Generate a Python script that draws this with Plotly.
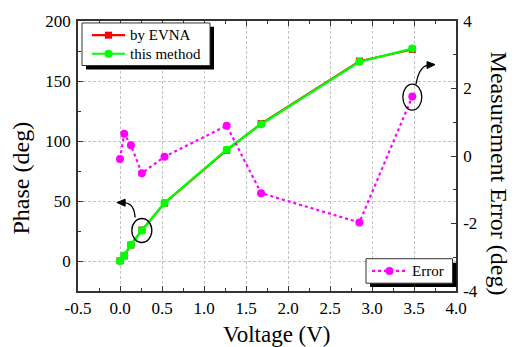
import plotly.graph_objects as go

# Bias voltage sweep
voltage = [0.0, 0.05, 0.13, 0.26, 0.53, 1.27, 1.68, 2.85, 3.48]
# Phase measured by the EVNA and by the proposed method (deg)
phase_evna = [0.2, 4.2, 13.3, 25.8, 48.2, 92.2, 114.5, 166.6, 176.3]
phase_method = [0.0, 4.6, 13.6, 25.4, 48.4, 92.8, 114.0, 166.0, 177.0]
# Measurement error of the proposed method (deg)
error = [-0.09, 0.66, 0.32, -0.51, -0.02, 0.90, -1.10, -1.97, 1.76]

x_ticks = [-0.5, 0.0, 0.5, 1.0, 1.5, 2.0, 2.5, 3.0, 3.5, 4.0]
phase_ticks = [0, 50, 100, 150, 200]
error_ticks = [-4, -2, 0, 2, 4]

FONT = "Liberation Serif"
RED, GREEN, MAGENTA = "#ff0000", "#00ff00", "#ff00ff"
W, H = 514, 347
ML, MR, MT, MB = 78, 58, 15, 56
PW, PH = W - ML - MR, H - MT - MB


def px(x, y):
    """Page pixel position -> paper coordinates."""
    return (x - ML) / PW, (H - MB - y) / PH


fig = go.Figure()

fig.add_trace(go.Scatter(
    x=voltage, y=phase_evna, name="by EVNA", mode="lines+markers",
    line=dict(color=RED, width=2),
    marker=dict(symbol="square", size=7, color=RED),
))
fig.add_trace(go.Scatter(
    x=voltage, y=phase_method, name="this method", mode="lines+markers",
    line=dict(color=GREEN, width=2.5),
    marker=dict(symbol="circle", size=8, color=GREEN),
))
fig.add_trace(go.Scatter(
    x=voltage, y=error, name="Error", mode="lines+markers", yaxis="y2",
    line=dict(color=MAGENTA, width=2.2, dash="dot"),
    marker=dict(symbol="circle", size=8, color=MAGENTA),
))

shapes = []
annotations = []


def rect(x0, y0, x1, y1, fill, border):
    a0, b0 = px(x0, y1)
    a1, b1 = px(x1, y0)
    shapes.append(dict(type="rect", xref="paper", yref="paper",
                       x0=a0, y0=b0, x1=a1, y1=b1, fillcolor=fill,
                       line=dict(color=border, width=1 if border else 0),
                       layer="above"))


def legend_box(box, entries):
    x0, y0, x1, y1 = box
    rect(x0 + 4, y0 + 4, x1 + 4, y1 + 4, "black", None)   # drop shadow
    rect(x0, y0, x1, y1, "white", "#333333")
    for (lx0, lx1, ly, color, dash, symbol, size, label) in entries:
        a0, b = px(lx0, ly)
        a1, _ = px(lx1, ly)
        shapes.append(dict(type="line", xref="paper", yref="paper",
                           x0=a0, x1=a1, y0=b, y1=b, layer="above",
                           line=dict(color=color, width=2.2, dash=dash)))
        cx, _ = px((lx0 + lx1) / 2, ly)
        shapes.append(dict(type=symbol, xref="paper", yref="paper",
                           xsizemode="pixel", ysizemode="pixel",
                           xanchor=cx, yanchor=b,
                           x0=-size / 2, x1=size / 2, y0=-size / 2, y1=size / 2,
                           fillcolor=color, line=dict(color=color, width=0),
                           layer="above"))
        tx, _ = px(lx1 + 4, ly)
        annotations.append(dict(text=label, xref="paper", yref="paper",
                                x=tx, y=b, xanchor="left", yanchor="middle",
                                showarrow=False, borderpad=0,
                                font=dict(family=FONT, size=15, color="black")))


legend_box((82, 17, 210, 60.5), [
    (92, 125, 29.5, RED, "solid", "rect", 7, "by EVNA"),
    (92, 125, 48.5, GREEN, "solid", "circle", 8, "this method"),
])
legend_box((366, 258, 452.5, 283), [
    (372, 407, 270.5, MAGENTA, "dot", "circle", 8, "Error"),
])

# highlight rings with curved arrows
hl = [
    dict(x=voltage[3], y=phase_method[3], yref="y", w=20, h=24, dy=0,
         curve="M -6.7,13 Q -7.7,27 -16.7,27.7",
         head="M -25,28 L -16.7,31.3 L -16.7,24.3 Z"),
    dict(x=voltage[8], y=error[8], yref="y2", w=19, h=26, dy=-0.5,
         curve="M 3.7,12.5 Q 6.7,29.3 14.7,31.3",
         head="M 22.7,32 L 14.7,35 L 14.7,28 Z"),
]
for h in hl:
    shapes.append(dict(type="circle", xref="x", yref=h["yref"],
                       xsizemode="pixel", ysizemode="pixel",
                       xanchor=h["x"], yanchor=h["y"],
                       x0=-h["w"] / 2, x1=h["w"] / 2,
                       y0=-h["h"] / 2 + h["dy"], y1=h["h"] / 2 + h["dy"],
                       line=dict(color="black", width=1.3)))
    shapes.append(dict(type="path", xref="x", yref=h["yref"],
                       xsizemode="pixel", ysizemode="pixel",
                       xanchor=h["x"], yanchor=h["y"], path=h["curve"],
                       line=dict(color="black", width=1.3)))
    shapes.append(dict(type="path", xref="x", yref=h["yref"],
                       xsizemode="pixel", ysizemode="pixel",
                       xanchor=h["x"], yanchor=h["y"], path=h["head"],
                       fillcolor="black", line=dict(color="black", width=1)))

# axis titles
for text, x, y, angle, size in [
    ("Voltage (V)", 276.5, 335, 0, 23),
    ("Phase (deg)", 21, 176, -90, 24),
    ("Measurement Error (deg)", 499, 171, 90, 24),
]:
    ax, ay = px(x, y)
    annotations.append(dict(text=text, xref="paper", yref="paper", x=ax, y=ay,
                            xanchor="center", yanchor="middle", textangle=angle,
                            showarrow=False, borderpad=0,
                            font=dict(family=FONT, size=size, color="black")))

axis_common = dict(
    showline=True, linecolor="#333333", linewidth=1.5,
    ticks="inside", ticklen=5, tickwidth=1.2, tickcolor="#333333",
    tickfont=dict(family=FONT, size=17, color="black"),
    zeroline=False,
)

fig.update_layout(
    width=W, height=H,
    margin=dict(l=ML, r=MR, t=MT, b=MB, pad=0),
    paper_bgcolor="white", plot_bgcolor="white",
    font=dict(family=FONT, color="black"),
    showlegend=False,
    xaxis=dict(
        range=[-0.5, 4.0], tickvals=x_ticks,
        ticktext=[f"{v:.1f}" for v in x_ticks],
        mirror="ticks", showgrid=True, gridcolor="#c4c4c4", gridwidth=1,
        griddash="3px,2px",
        minor=dict(dtick=0.25, ticks="inside", ticklen=3, tickcolor="#333333",
                   showgrid=False),
        ticklabelstandoff=1,
        **axis_common,
    ),
    yaxis=dict(
        range=[-25, 200], tickvals=phase_ticks,
        ticktext=[str(v) for v in phase_ticks],
        showgrid=True, gridcolor="#c4c4c4", gridwidth=1, griddash="3px,2px",
        minor=dict(dtick=25, ticks="inside", ticklen=3, tickcolor="#333333",
                   showgrid=False),
        ticklabelstandoff=2,
        **axis_common,
    ),
    yaxis2=dict(
        range=[-4, 4], tickvals=error_ticks,
        ticktext=[str(v) for v in error_ticks],
        overlaying="y", side="right",
        showgrid=False,
        minor=dict(dtick=1, ticks="inside", ticklen=3, tickcolor="#333333",
                   showgrid=False),
        ticklabelstandoff=2,
        **axis_common,
    ),
    annotations=annotations,
    shapes=shapes,
)

fig.write_html("out.html")
